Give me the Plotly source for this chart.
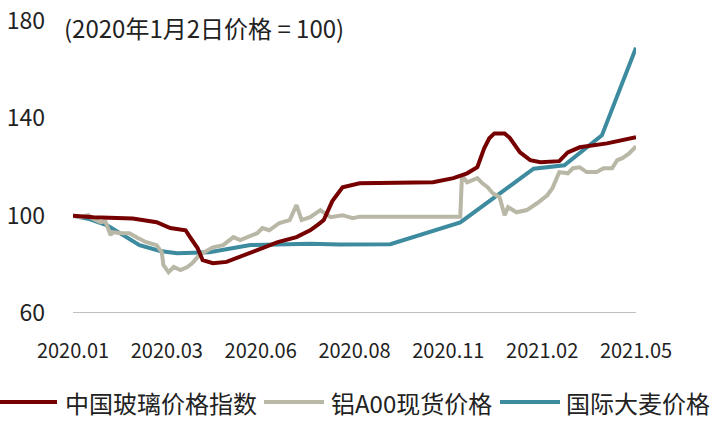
import plotly.graph_objects as go

# x = trading-day index from 2020-01-02
tick_labels = ["2020.01", "2020.03", "2020.06", "2020.08", "2020.11", "2021.02", "2021.05"]
tick_pos = [0, 55, 110, 165, 220, 275, 330]

glass_x = [0, 12, 35, 49, 57, 66, 69, 73, 76, 82, 90, 100, 108, 120, 131, 139, 144, 147, 152, 158,
           168, 176, 192, 211, 223, 231, 237, 241, 244, 247, 253, 256, 262, 268, 274, 285, 290, 297,
           313, 328, 330]
glass_y = [100, 99.4, 98.8, 97.3, 94.9, 94, 90.8, 86.7, 81.7, 80.5, 81, 83.8, 85.8, 89.1, 91.2, 94,
           96.5, 98.2, 106, 111.7, 113.3, 113.3, 113.7, 113.7, 115.4, 117.4, 119.9, 127.7, 131.8,
           133.8, 133.8, 132, 126, 122.8, 122, 122.4, 126, 128.1, 129.7, 131.8, 132.2]

alu_x = [0, 4, 9, 11, 16, 19, 22, 23, 29, 33, 38, 43, 49, 52, 53, 56, 59, 63, 67, 70,
         74, 79, 82, 88, 94, 98, 102, 108, 111, 115, 121, 127, 131, 134, 139, 145, 151, 158, 164, 168,
         227, 228, 231, 237, 240, 243, 246, 250, 253, 255, 260, 266, 272, 278, 281, 285, 290, 293,
         297, 301, 307, 311, 316, 319, 322, 326, 330]
alu_y = [100, 99.4, 100.2, 99.0, 97.3, 97.6, 92.0, 93.2, 92.8, 92.8, 90.8, 89.1, 87.9, 85.0, 79.7,
         76.8, 78.9, 77.6, 78.9, 80.5, 83.8, 85.8, 87.0, 87.9, 91.2, 90.0, 91.2, 92.8, 94.9, 94.0,
         97.0, 98.2, 104.3, 98.2, 99.4, 102.3, 99.4, 100.2, 99.0, 99.6, 99.6, 116.6, 113.7, 115.4,
         113.3, 111.7, 109.2, 107.6, 100.2, 103.5, 101.4, 102.3, 105.1, 108.4, 111.3, 117.9, 117.4,
         119.5, 119.9, 117.9, 117.9, 119.5, 119.5, 122.8, 123.6, 125.6, 128.5]

barley_x = [0, 10, 20, 30, 39, 51, 61, 80, 104, 139, 156, 186, 227, 270, 288, 310, 330]
barley_y = [100, 98.5, 96, 91.5, 87.9, 85.5, 84.6, 85, 87.9, 88.5, 88.2, 88.3, 97.2, 119.3, 120.7,
            133, 169]

series = [
    ("中国玻璃价格指数", glass_x, glass_y, "#760000"),
    ("铝A00现货价格", alu_x, alu_y, "#B9B7A5"),
    ("国际大麦价格", barley_x, barley_y, "#3D8B9F"),
]

FONT = "Noto Sans CJK SC"
TEXT = "#222222"

fig = go.Figure()
for name, xs, ys, color in series[::-1]:
    fig.add_trace(go.Scatter(x=xs, y=ys, name=name, mode="lines",
                             line=dict(color=color, width=4), showlegend=False))

fig.update_xaxes(
    range=[0, 330], tickvals=tick_pos, ticktext=tick_labels, automargin=False,
    showgrid=False, zeroline=False, showline=False, ticks="",
    ticklabelstandoff=24, tickfont=dict(family=FONT, size=20, color=TEXT),
)
fig.update_yaxes(
    range=[60, 180], tickvals=[60, 100, 140, 180], automargin=False,
    showgrid=False, zeroline=False, showline=False, ticks="",
    ticklabelstandoff=27, tickfont=dict(family=FONT, size=23, color=TEXT),
)

# baseline at 60
fig.add_shape(type="line", xref="paper", yref="y", x0=0, x1=1, y0=60, y1=60,
              line=dict(color="#C0C0C0", width=2), layer="below")

fig.add_annotation(text="(2020年1月2日价格 = 100)", xref="paper", yref="paper",
                   x=-0.019, y=0.978, xanchor="left", yanchor="middle", showarrow=False,
                   font=dict(family=FONT, size=24, color=TEXT))

# custom legend below the plot
plot_l, plot_w, plot_b, plot_h = 73, 563, 313, 292
leg_y = (plot_b - 402) / plot_h
for (name, _, _, color), (lx0, lx1, tx) in zip(series, [(0, 57, 63), (264, 324, 329), (500, 560, 564)]):
    fig.add_shape(type="line", xref="paper", yref="paper",
                  x0=(lx0 - plot_l) / plot_w, x1=(lx1 - plot_l) / plot_w, y0=leg_y, y1=leg_y,
                  line=dict(color=color, width=4))
    fig.add_annotation(text=name, xref="paper", yref="paper",
                       x=(tx - plot_l) / plot_w, y=leg_y, xanchor="left", yanchor="middle",
                       showarrow=False, font=dict(family=FONT, size=24, color=TEXT))

fig.update_layout(
    width=719, height=424,
    margin=dict(l=73, r=83, t=21, b=111),
    plot_bgcolor="white", paper_bgcolor="white",
    showlegend=False,
)

# drop the default 8px body margin so the figure fills the window
fig.write_html("out.html", config={"displayModeBar": False},
               post_script="document.body.style.margin='0';")
